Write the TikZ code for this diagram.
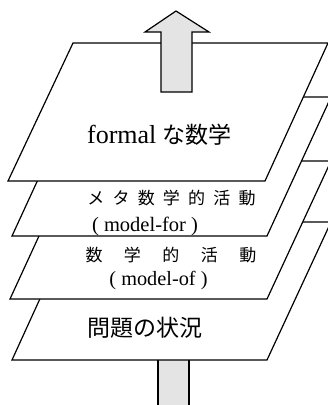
\documentclass[tikz,border=0pt]{standalone}
\usepackage{fontspec}
\setmainfont{Liberation Serif}
\newfontfamily\jpfont{Noto Sans CJK JP}
\newcommand{\cbox}[2]{\makebox[#1][c]{#2}}
\tikzset{
  layer/.style={draw=black, line width=1.2pt, fill=white, line join=miter},
  bigarrow/.style={draw=black, line width=1.2pt, fill={rgb,255:red,228;green,228;blue,228}},
  lbl/.style={inner sep=0pt, anchor=base}
}
\begin{document}
\begin{tikzpicture}[x=1pt,y=-1pt]
\useasboundingbox (0,0) rectangle (328,405);
% bottom arrow shaft (behind layers)
\draw[bigarrow] (158,340) -- (158,412) -- (189,412) -- (189,340) -- cycle;
% layers, back to front
\draw[layer] (12,360) -- (75,222) -- (331,222) -- (267,360) -- cycle;
\draw[layer] (10,299) -- (73.5,161) -- (331,161) -- (267,299) -- cycle;
\draw[layer] (12,236) -- (76,97) -- (331,97) -- (267,236) -- cycle;
\draw[layer] (8,181) -- (73,43) -- (328,43) -- (265,181) -- cycle;
% top arrow
\draw[bigarrow] (161,92) -- (161,32) -- (145,32) -- (176,11) -- (209,32) -- (192,32) -- (192,92) -- cycle;
% texts
\node[lbl] (formal) at (159.5,143) {\fontsize{26pt}{28pt}\selectfont formal \jpfont\fontsize{23pt}{25pt}\selectfont な数学};
\node[lbl] (meta) at (171.5,204) {\jpfont\fontsize{17pt}{19pt}\selectfont\cbox{25.2pt}{メ}\cbox{25.2pt}{タ}\cbox{25.2pt}{数}\cbox{25.2pt}{学}\cbox{25.2pt}{的}\cbox{25.2pt}{活}\cbox{25.2pt}{動}};
\node[lbl] (modelfor) at (145,231.7) {\fontsize{20.5pt}{22pt}\selectfont ( model-for )};
\node[lbl] (math) at (171,261) {\jpfont\fontsize{17pt}{19pt}\selectfont\cbox{38.5pt}{数}\cbox{38.5pt}{学}\cbox{38.5pt}{的}\cbox{38.5pt}{活}\cbox{38.5pt}{動}};
\node[lbl] (modelof) at (158.5,285) {\fontsize{20.3pt}{22pt}\selectfont ( model-of )};
\node[lbl] (problem) at (145,336) {\jpfont\fontsize{23pt}{25pt}\selectfont 問題の状況};
\end{tikzpicture}
\end{document}
